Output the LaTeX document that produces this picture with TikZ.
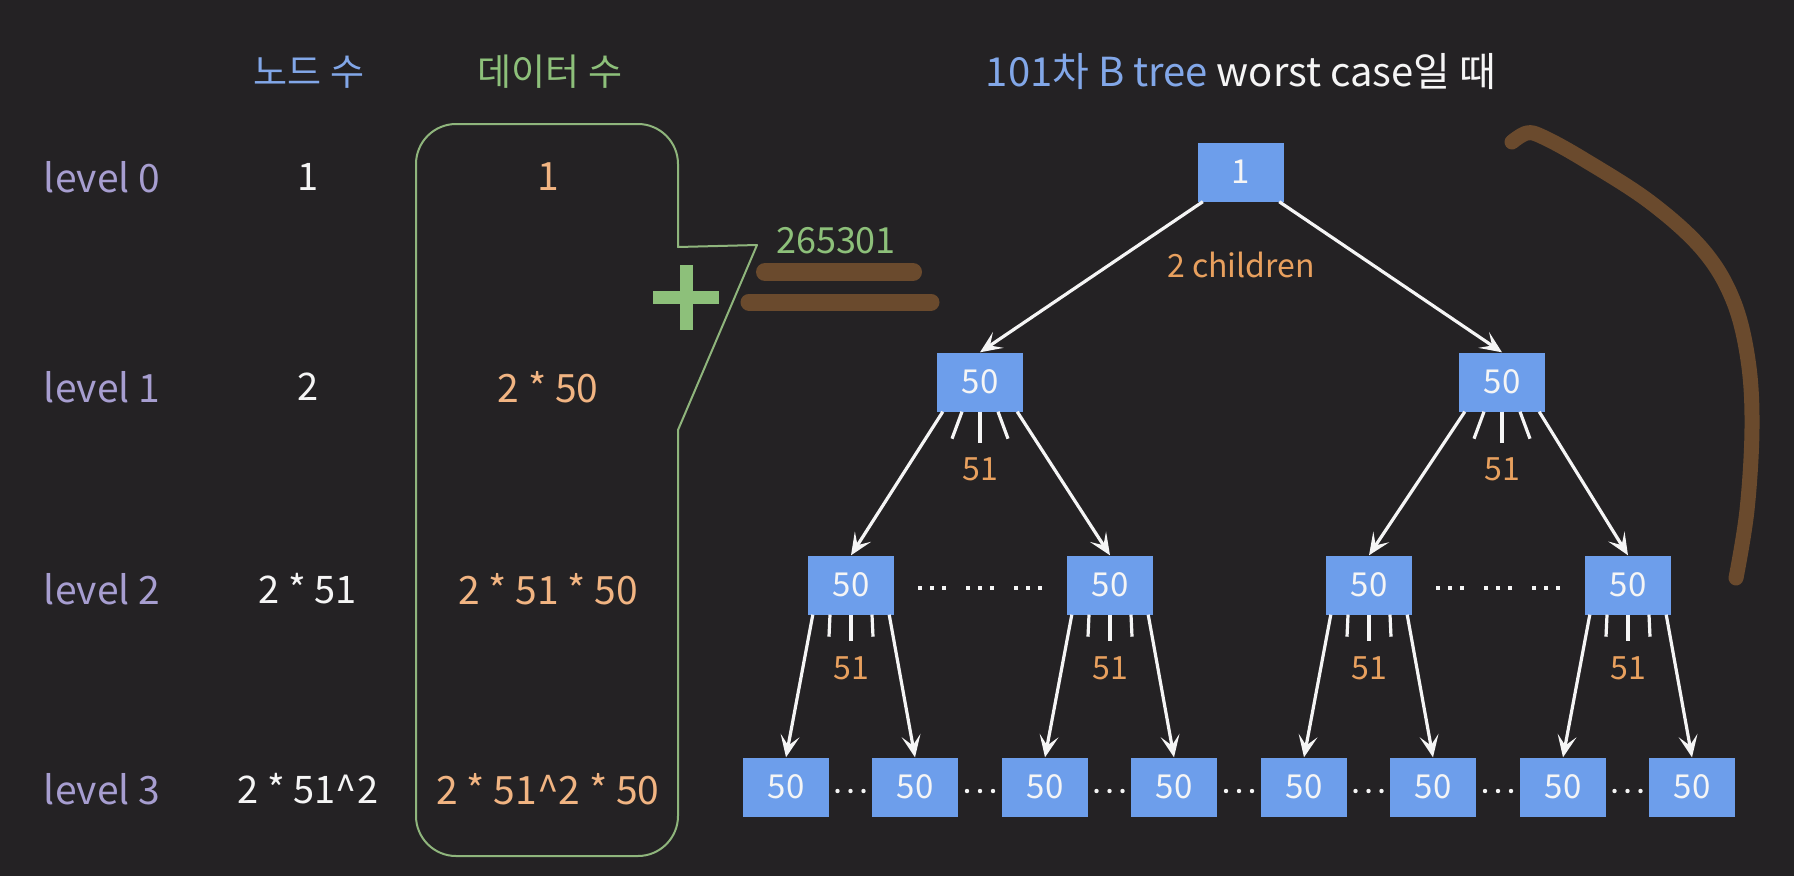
\documentclass[tikz,border=0pt]{standalone}
\usepackage{fontspec}
\setmainfont{Noto Sans CJK KR}
\usetikzlibrary{arrows.meta,calc}
\definecolor{bg}{HTML}{242224}
\definecolor{lav}{HTML}{A79ED0}
\definecolor{wht}{HTML}{F5F5F5}
\definecolor{peach}{HTML}{F1B482}
\definecolor{orng}{HTML}{E8A05E}
\definecolor{hblue}{HTML}{82A7E8}
\definecolor{grn}{HTML}{8DC07A}
\definecolor{bubl}{HTML}{8FB57C}
\definecolor{nblue}{HTML}{6D9EEB}
\definecolor{brwn}{HTML}{6A4A2D}
\tikzset{
  bnode/.style={fill=nblue, minimum width=86pt, minimum height=59pt, inner sep=0pt, text=wht, font=\fontsize{33}{36}\selectfont},
  arr/.style={draw=wht, line width=3.2pt, -{Stealth[length=22pt,width=19pt,inset=10pt]}},
  tickln/.style={draw=wht, line width=3.2pt},
  lvl/.style={text=lav, font=\fontsize{39}{42}\selectfont},
  cnt/.style={text=wht, font=\fontsize{38}{42}\selectfont},
  dat/.style={text=peach, font=\fontsize{39}{42}\selectfont},
  hdr/.style={font=\fontsize{37}{40}\selectfont},
  lbl/.style={text=orng, font=\fontsize{32}{36}\selectfont},
  brownln/.style={draw=brwn, line cap=round},
  dotm/.style={fill=wht}
}
\begin{document}
\begin{tikzpicture}[x=1pt,y=-1pt]
\fill[bg] (0,0) rectangle (1794,876);
\useasboundingbox (0,0) rectangle (1794,876);

% headers
\node[hdr, text=hblue] (h1) at (309,72) {노드 수};
\node[hdr, text=grn] (h2) at (550,72) {데이터 수};
\node[hdr, font=\fontsize{40}{44}\selectfont] (h3) at (1241,72) {\textcolor{hblue}{101차 B tree} \textcolor{wht}{worst case일 때}};

% bubble
\draw[bubl, line width=2pt, line join=round]
  (757,245) -- (678,247) -- (678,164) .. controls (678,142) and (660,124) .. (638,124)
  -- (456,124) .. controls (434,124) and (416,142) .. (416,164)
  -- (416,816) .. controls (416,838) and (434,856) .. (456,856)
  -- (638,856) .. controls (660,856) and (678,838) .. (678,816)
  -- (678,430) -- cycle;

% rows
\foreach \y/\l/\c/\d [count=\i] in {177/level 0/1/1, 387/level 1/2/2 * 50, 589/level 2/2 * 51/2 * 51 * 50, 789/level 3/2 * 51\^{}2/2 * 51\^{}2 * 50}{
  \node[lvl] (lv\i) at (102,\y) {\l};
  \node[cnt] (cn\i) at (308,\y) {\c};
  \node[dat] (dt\i) at (548,\y) {\d};
}

% plus, sum, strokes
\fill[grn] (653,291) rectangle (719,304);
\fill[grn] (680,265) rectangle (693,330);
\node[text=grn, font=\fontsize{36}{40}\selectfont] (sum) at (836,241) {265301};
\draw[brownln, line width=18pt] (765,272) -- (913,272);
\draw[brownln, line width=17pt] (749,302) -- (931,302);
\draw[brownln, line width=15pt, line join=round] plot[smooth, tension=0.6] coordinates {(1512,142) (1527,133) (1543,137) (1583,159) (1650,202) (1703,250) (1733,300) (1748,360) (1752,427) (1747,510) (1736,578)};

% tree nodes
\node[bnode] (r) at (1241,172) {1};
\node[bnode] (a) at (980,382) {50};
\node[bnode] (b) at (1502,382) {50};
\node[bnode] (c1) at (851,585) {50};
\node[bnode] (c2) at (1110,585) {50};
\node[bnode] (c3) at (1369,585) {50};
\node[bnode] (c4) at (1628,585) {50};
\foreach \x [count=\i] in {786,915,1045,1174,1304,1433,1563,1692}{
  \node[bnode] (d\i) at (\x,787) {50};
}

\node[lbl] (ch) at (1241,265) {2 children};

% root arrows
\draw[arr] ([xshift=5pt]r.south west) -- (a.north);
\draw[arr] ([xshift=-5pt]r.south east) -- (b.north);

% level 1 arrows and ticks
\foreach \p/\q/\s in {a/c1/c2, b/c3/c4}{
  \draw[arr] ([xshift=6pt]\p.south west) -- (\q.north);
  \draw[arr] ([xshift=-6pt]\p.south east) -- (\s.north);
  \draw[tickln] ([xshift=-18pt]\p.south) -- ++(-10,27);
  \draw[tickln] (\p.south) -- ++(0,31);
  \draw[tickln] ([xshift=18pt]\p.south) -- ++(10,27);
  \node[lbl] (n\p) at ($(\p.south)+(0,58)$) {51};
}

% level 2 arrows and ticks
\foreach \p/\q/\s in {c1/d1/d2, c2/d3/d4, c3/d5/d6, c4/d7/d8}{
  \draw[arr] ([xshift=5pt]\p.south west) -- (\q.north);
  \draw[arr] ([xshift=-5pt]\p.south east) -- (\s.north);
  \draw[tickln] ([xshift=-21pt]\p.south) -- ++(-1,22);
  \draw[tickln] (\p.south) -- ++(0,26);
  \draw[tickln] ([xshift=21pt]\p.south) -- ++(1,22);
  \node[lbl] (n\p) at ($(\p.south)+(0,54)$) {51};
}

% level 2 dots
\foreach \sx in {917,1435}{
  \foreach \g in {0,48,96}{
    \foreach \k in {0,12,24}{
      \fill[dotm] (\sx+\g+\k+1,586) rectangle ++(4,4);
    }
  }
}
% level 3 dots
\foreach \i [evaluate=\i as \j using int(\i+1)] in {1,...,7}{
  \path ($(d\i.east)!0.5!(d\j.west)$) coordinate (m\i);
  \foreach \k in {-13,0,13}{
    \fill[dotm] ([xshift=\k pt, yshift=-4pt]m\i) circle (2.2pt);
  }
}
\end{tikzpicture}
\end{document}
